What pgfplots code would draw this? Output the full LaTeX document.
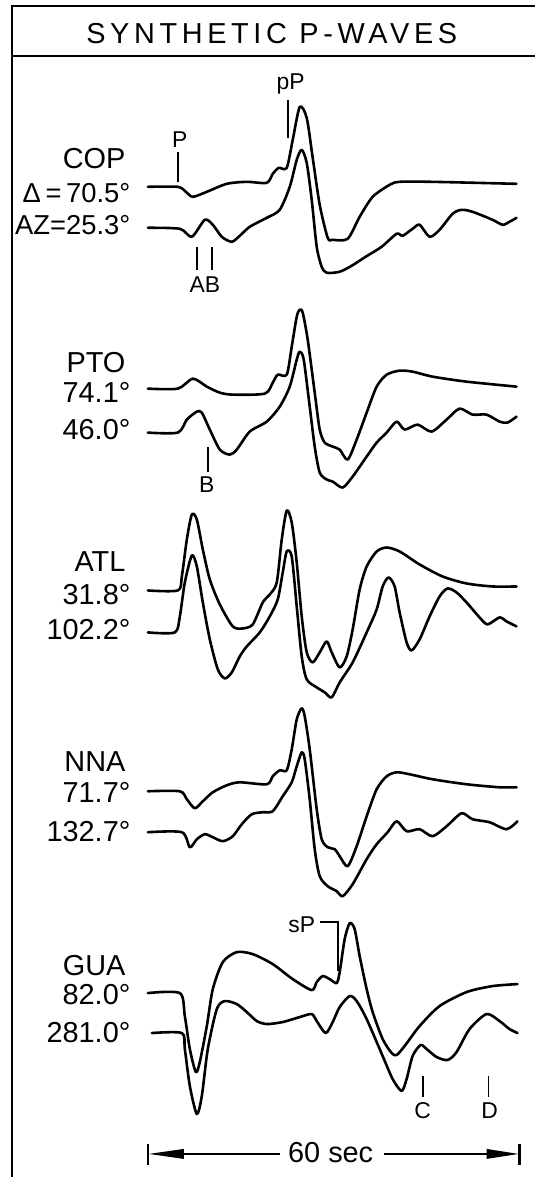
\documentclass[border=0pt]{standalone}
\usepackage{fontspec}
\setmainfont{Liberation Sans}
\usepackage{pgfplots}
\pgfplotsset{compat=1.18}
\newfontfamily\titlefont[LetterSpace=16]{Liberation Sans}
\newcommand{\lbl}{\fontsize{29}{29}\selectfont}
\newcommand{\lbs}{\fontsize{27.5}{27.5}\selectfont}
\newcommand{\mrk}{\fontsize{23}{23}\selectfont}
\tikzset{
  trace/.style={black, solid, line width=2.6bp, mark=none, smooth, tension=0.45,
    line join=round, line cap=round},
  mtick/.style={line width=1.8bp},
}

\begin{document}
\begin{tikzpicture}
\begin{axis}[
  scale only axis, width=535bp, height=1178bp,
  xmin=0, xmax=535, ymin=0, ymax=1178, y dir=reverse,
  hide axis, clip=false,
]
% page extent
\path (axis cs:0,0) rectangle (axis cs:535,1178);

% frame and title
\draw[line width=2.2bp] (axis cs:535,6) -- (axis cs:12,6) -- (axis cs:12,1178);
\draw[line width=2.2bp] (axis cs:12,56) -- (axis cs:535,56);
\node[anchor=base, font=\titlefont\lbl] at (axis cs:272,44) {SYNTHETIC P-WAVES};

% ---------------- COP ----------------
\addplot[trace] coordinates {(148,187)(178,187)(186,192)(193,197)(207,192)(227,184)(247,182)(267,183)(273,174)(279,168)(287,168)(293,140)(300,107)(307,118)(313,158)(320,205)(328,238)(333,240)(348,239)(360,217)(373,197)(390,185)(400,182)(433,182)(517,184)};
\addplot[trace] coordinates {(148,228)(180,229)(192,237)(205,220)(213,225)(222,237)(232,242)(240,236)(250,227)(267,218)(280,210)(290,187)(297,160)(302,150)(307,163)(312,200)(317,247)(322,267)(327,273)(340,272)(352,266)(366,257)(382,247)(397,234)(403,236)(413,229)(420,225)(430,237)(440,230)(453,214)(462,210)(473,212)(493,220)(503,225)(510,222)(517,218)};
\node[anchor=base east, font=\lbl] at (axis cs:129,169) {COP};
\node[anchor=base east, font=\lbs] at (axis cs:134,203) {Δ\,=\,70.5°};
\node[anchor=base east, font=\lbs] at (axis cs:134,235) {AZ=25.3°};
\draw[mtick] (axis cs:178,152) -- (axis cs:178,182);
\node[anchor=base, font=\mrk] at (axis cs:180,148) {P};
\draw[mtick] (axis cs:288,100) -- (axis cs:288,138);
\node[anchor=base, font=\mrk] at (axis cs:291,90) {pP};
\draw[mtick] (axis cs:197,247) -- (axis cs:197,270);
\draw[mtick] (axis cs:212,247) -- (axis cs:212,270);
\node[anchor=base, font=\mrk] at (axis cs:205,293) {AB};

% ---------------- PTO ----------------
\addplot[trace] coordinates {(148,389)(178,389)(193,379)(207,387)(220,393)(233,395)(265,394)(273,383)(278,375)(287,375)(292,347)(297,317)(300,310)(303,313)(308,340)(315,393)(320,430)(325,443)(333,447)(340,450)(348,460)(357,440)(367,413)(377,387)(387,375)(400,371)(413,372)(433,377)(467,382)(517,387)};
\addplot[trace] coordinates {(148,433)(178,433)(187,420)(197,412)(202,413)(210,430)(220,450)(230,455)(237,450)(250,432)(267,422)(280,407)(290,387)(297,360)(300,352)(304,360)(310,407)(315,447)(320,473)(327,480)(333,482)(343,488)(353,477)(367,457)(377,443)(387,433)(397,422)(405,430)(418,425)(432,432)(447,420)(460,409)(473,415)(487,415)(500,422)(508,423)(517,417)};
\node[anchor=base east, font=\lbl] at (axis cs:129,373) {PTO};
\node[anchor=base east, font=\lbl] at (axis cs:134,403) {74.1°};
\node[anchor=base east, font=\lbl] at (axis cs:134,440) {46.0°};
\draw[mtick] (axis cs:208,447) -- (axis cs:208,472);
\node[anchor=base, font=\mrk] at (axis cs:207,493) {B};

% ---------------- ATL ----------------
\addplot[trace] coordinates {(148,591)(178,591)(182,577)(187,540)(192,515)(197,520)(203,550)(210,580)(220,605)(233,627)(243,629)(253,625)(263,603)(270,595)(277,583)(282,540)(287,511)(292,523)(297,563)(302,617)(307,653)(313,663)(320,653)(327,642)(332,653)(340,668)(347,657)(353,630)(360,590)(367,567)(377,552)(387,548)(400,552)(420,565)(443,577)(467,584)(493,587)(517,587)};
\addplot[trace] coordinates {(148,633)(175,633)(180,617)(185,583)(192,556)(197,567)(203,603)(210,640)(218,670)(225,679)(232,673)(240,657)(247,647)(260,633)(270,617)(278,600)(283,573)(287,552)(292,557)(297,607)(302,657)(307,680)(317,688)(325,693)(332,698)(340,683)(353,663)(367,633)(377,610)(383,587)(389,578)(395,587)(400,613)(407,643)(412,651)(420,640)(430,617)(440,597)(448,589)(457,593)(467,603)(480,618)(488,625)(500,618)(507,622)(517,627)};
\node[anchor=base east, font=\lbl] at (axis cs:129,572) {ATL};
\node[anchor=base east, font=\lbl] at (axis cs:134,605) {31.8°};
\node[anchor=base east, font=\lbl] at (axis cs:134,640) {102.2°};

% ---------------- NNA ----------------
\addplot[trace] coordinates {(148,792)(180,792)(187,800)(195,809)(203,802)(213,793)(227,786)(240,783)(267,785)(273,777)(280,771)(287,771)(292,750)(297,720)(302,709)(305,717)(310,750)(317,810)(322,840)(328,848)(335,850)(340,857)(348,867)(357,847)(367,817)(377,790)(387,777)(397,773)(410,775)(433,780)(467,785)(500,788)(517,788)};
\addplot[trace] coordinates {(148,833)(182,833)(190,848)(197,840)(205,835)(213,838)(223,842)(233,837)(242,825)(252,815)(263,813)(273,812)(283,797)(292,783)(297,767)(302,753)(305,760)(310,800)(315,850)(320,877)(328,887)(337,892)(343,897)(353,885)(367,860)(377,845)(388,833)(397,822)(407,832)(420,830)(433,837)(447,827)(462,814)(473,820)(490,823)(507,830)(518,822)};
\node[anchor=base east, font=\lbl] at (axis cs:129,772) {NNA};
\node[anchor=base east, font=\lbl] at (axis cs:134,803) {71.7°};
\node[anchor=base east, font=\lbl] at (axis cs:134,842) {132.7°};

% ---------------- GUA ----------------
\addplot[trace] coordinates {(148,994)(180,994)(185,1017)(190,1050)(196,1073)(200,1063)(207,1027)(213,990)(223,963)(237,953)(253,955)(273,965)(293,980)(312,991)(317,983)(323,977)(330,980)(337,984)(340,973)(345,940)(350,924)(355,930)(360,957)(367,990)(373,1013)(383,1040)(392,1054)(397,1056)(405,1047)(420,1027)(440,1007)(467,993)(493,987)(518,985)};
\addplot[trace] coordinates {(152,1034)(182,1034)(185,1050)(190,1087)(197,1115)(202,1097)(208,1050)(217,1010)(225,1002)(237,1005)(247,1013)(257,1022)(267,1025)(283,1023)(300,1018)(312,1015)(317,1022)(326,1034)(333,1023)(340,1008)(350,997)(357,1002)(367,1020)(383,1057)(393,1080)(402,1092)(407,1080)(413,1057)(421,1046)(427,1050)(437,1058)(448,1061)(457,1053)(470,1030)(487,1015)(500,1022)(510,1030)(518,1034)};
\node[anchor=base east, font=\lbl] at (axis cs:129,976) {GUA};
\node[anchor=base east, font=\lbl] at (axis cs:134,1005) {82.0°};
\node[anchor=base east, font=\lbl] at (axis cs:134,1043) {281.0°};
\node[anchor=base east, font=\mrk] at (axis cs:319,933) {sP};
\draw[mtick] (axis cs:320,923) -- (axis cs:338,923) -- (axis cs:338,972);
\draw[mtick] (axis cs:423,1077) -- (axis cs:423,1098);
\node[anchor=base, font=\mrk] at (axis cs:423,1120) {C};
\draw[mtick] (axis cs:489,1077) -- (axis cs:489,1098);
\node[anchor=base, font=\mrk] at (axis cs:490,1120) {D};

% ---------------- time scale ----------------
\draw[line width=2.2bp] (axis cs:148,1145) -- (axis cs:148,1166);
\draw[line width=2.2bp] (axis cs:520,1145) -- (axis cs:520,1166);
\fill (axis cs:149,1155) -- (axis cs:184,1150) -- (axis cs:184,1160) -- cycle;
\fill (axis cs:519,1155) -- (axis cs:487,1150) -- (axis cs:487,1160) -- cycle;
\draw[line width=1.5bp] (axis cs:180,1155) -- (axis cs:280,1155);
\draw[line width=1.5bp] (axis cs:384,1155) -- (axis cs:490,1155);
\node[anchor=base, font=\lbl] at (axis cs:331,1164) {60 sec};
\end{axis}
\end{tikzpicture}
\end{document}
